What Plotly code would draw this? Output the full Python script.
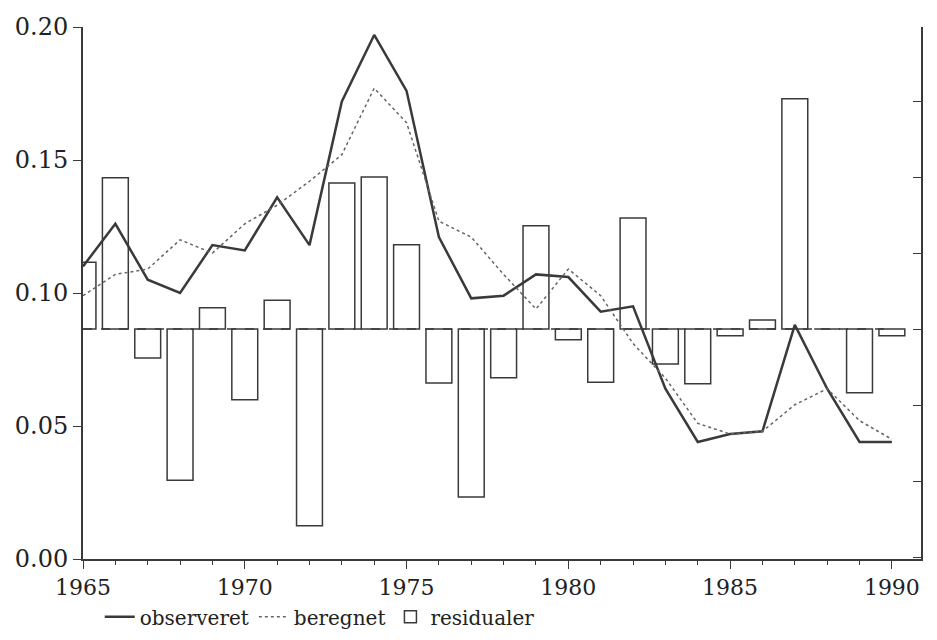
import plotly.graph_objects as go

years = list(range(1965, 1991))
observeret = [0.110,0.126,0.105,0.100,0.118,0.116,0.136,0.118,0.172,0.197,0.176,0.121,0.098,0.099,0.107,0.106,
              0.093,0.095,0.064,0.044,0.047,0.048,0.088,0.064,0.044,0.044]
beregnet = [0.099,0.107,0.109,0.120,0.115,0.126,0.133,0.142,0.152,0.177,0.164,0.127,0.121,0.107,0.094,0.109,
            0.099,0.081,0.068,0.051,0.047,0.048,0.058,0.064,0.052,0.045]
residualer = [0.88,1.99,-0.38,-1.99,0.28,-0.93,0.38,-2.59,1.92,2.0,1.11,-0.71,-2.21,-0.64,1.36,-0.14,
              -0.70,1.46,-0.46,-0.72,-0.09,0.12,3.03,0.0,-0.84,-0.09]
zeros = [0]*len(years)

C = "#3a3a3a"
fig = go.Figure()
fig.add_trace(go.Scatter(x=years, y=observeret, yaxis="y2", mode="lines", name="observeret",
                         line=dict(color=C, width=2.5)))
fig.add_trace(go.Scatter(x=years, y=beregnet, yaxis="y2", mode="lines", name="beregnet",
                         line=dict(color="#666", width=1.5, dash="dot")))
fig.add_trace(go.Scatter(x=years, y=zeros, mode="lines", showlegend=False,
                         line=dict(color=C, width=1.5, dash="dash"), hoverinfo="skip"))
fig.add_trace(go.Bar(x=years, y=residualer, name="residualer", width=0.8,
                     marker=dict(color="white", line=dict(color=C, width=1.5))))

fig.update_layout(
    width=917, height=624, plot_bgcolor="white", paper_bgcolor="white",
    margin=dict(l=75, r=4, t=19, b=73, autoexpand=False),
    font=dict(family="DejaVu Serif", size=24, color="#222"),
    xaxis=dict(range=[1965, 1990.9], tickvals=[1965,1970,1975,1980,1985,1990], ticks="outside",
               ticklen=8, tickcolor=C, showline=True, linecolor=C, linewidth=2, showgrid=False,
               zeroline=False, tickfont=dict(size=22),
               minor=dict(dtick=1, ticks="outside", ticklen=4, tickcolor=C)),
    yaxis2=dict(overlaying="y", side="left", range=[0, 0.2], tickvals=[0,0.05,0.10,0.15,0.20],
               ticktext=["0.00","0.05","0.10","0.15","0.20"], ticks="outside", ticklen=8,
               tickcolor=C, showline=True, linecolor=C, linewidth=2, showgrid=False, zeroline=False),
    yaxis=dict(side="right", range=[-3.026, 3.974], dtick=1, ticks="inside",
                ticklen=8, tickcolor=C, showticklabels=False, showline=True, linecolor=C,
                linewidth=2, showgrid=False, zeroline=False),
    legend=dict(orientation="h", x=0.02, y=-0.072, xanchor="left", yanchor="top",
                font=dict(size=20), traceorder="normal"),
)
fig.write_html("out.html")
